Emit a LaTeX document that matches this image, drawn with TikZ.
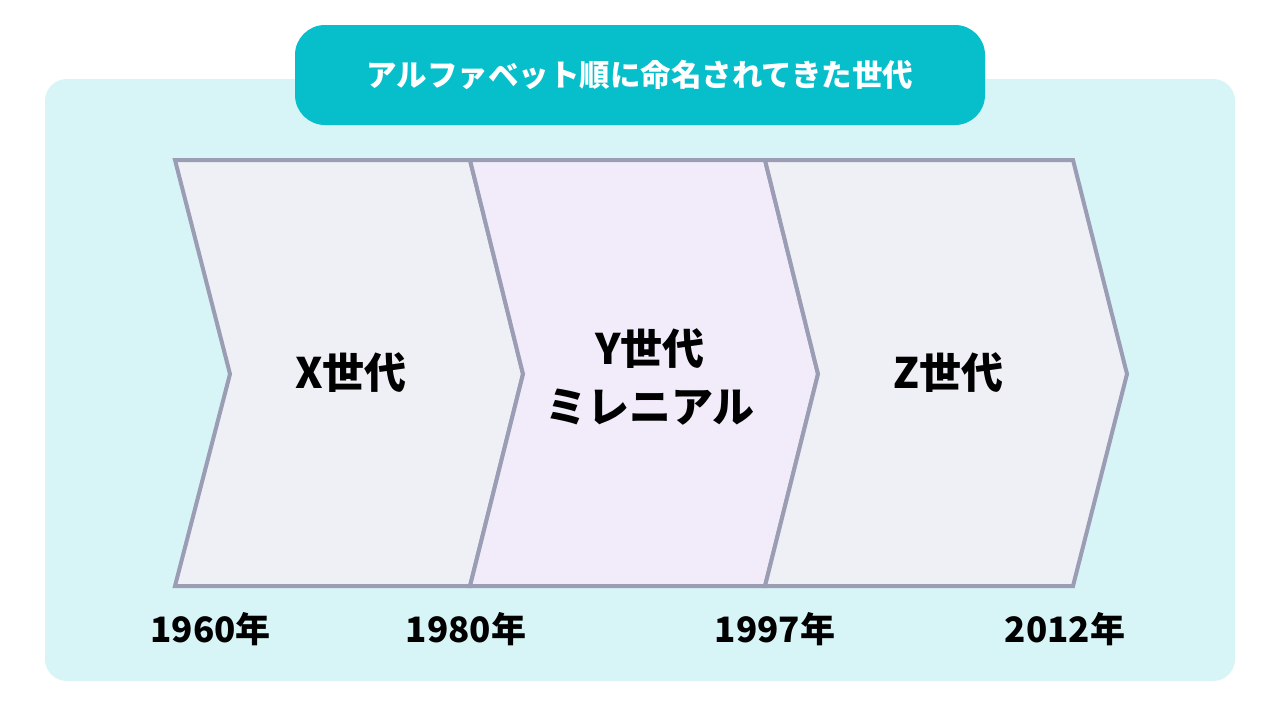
\documentclass[tikz,border=0pt]{standalone}
\usepackage{fontspec}
\setmainfont{Noto Sans CJK JP}
\definecolor{bgcyan}{HTML}{D7F5F7}
\definecolor{banner}{HTML}{06BFCB}
\definecolor{chevline}{HTML}{9A9DB4}
\definecolor{chevgray}{HTML}{EFF0F5}
\definecolor{chevlav}{HTML}{F2ECFA}
\begin{document}
\begin{tikzpicture}[x=1pt,y=-1pt,
  chev/.style={draw=chevline,line width=4pt,line join=miter},
  genlabel/.style={font=\fontsize{42}{58}\selectfont\bfseries,align=center,inner sep=0pt},
  yearlabel/.style={font=\fontsize{35}{40}\selectfont\bfseries,inner sep=0pt},
  titlelabel/.style={font=\fontsize{30.5}{36}\selectfont\bfseries,text=white,inner sep=0pt}]
\useasboundingbox (0,0) rectangle (1280,720);
\fill[white] (0,0) rectangle (1280,720);
% background panel
\fill[bgcyan,rounded corners=22pt] (45,79) rectangle (1235,681);
% banner
\fill[banner,rounded corners=30pt] (295,25) rectangle (985,125);
\node[titlelabel] (title) at (640,75) {アルファベット順に命名されてきた世代};
% chevrons
\filldraw[chev,fill=chevgray] (175,160) -- (470,160) -- (523,374) -- (470,586) -- (175,586) -- (230,374) -- cycle;
\filldraw[chev,fill=chevlav] (470,160) -- (765,160) -- (818,374) -- (765,586) -- (470,586) -- (523,374) -- cycle;
\filldraw[chev,fill=chevgray] (765,160) -- (1073,160) -- (1127,374) -- (1073,586) -- (765,586) -- (818,374) -- cycle;
% generation labels
\node[genlabel] (genx) at (351,373) {X世代};
\node[genlabel] (geny) at (650,377) {Y世代\\ミレニアル};
\node[genlabel] (genz) at (948,373) {Z世代};
% year labels
\node[yearlabel] (y1960) at (210.5,629) {1960年};
\node[yearlabel] (y1980) at (466,629) {1980年};
\node[yearlabel] (y1997) at (775,629) {1997年};
\node[yearlabel] (y2012) at (1065,629) {2012年};
\end{tikzpicture}
\end{document}
